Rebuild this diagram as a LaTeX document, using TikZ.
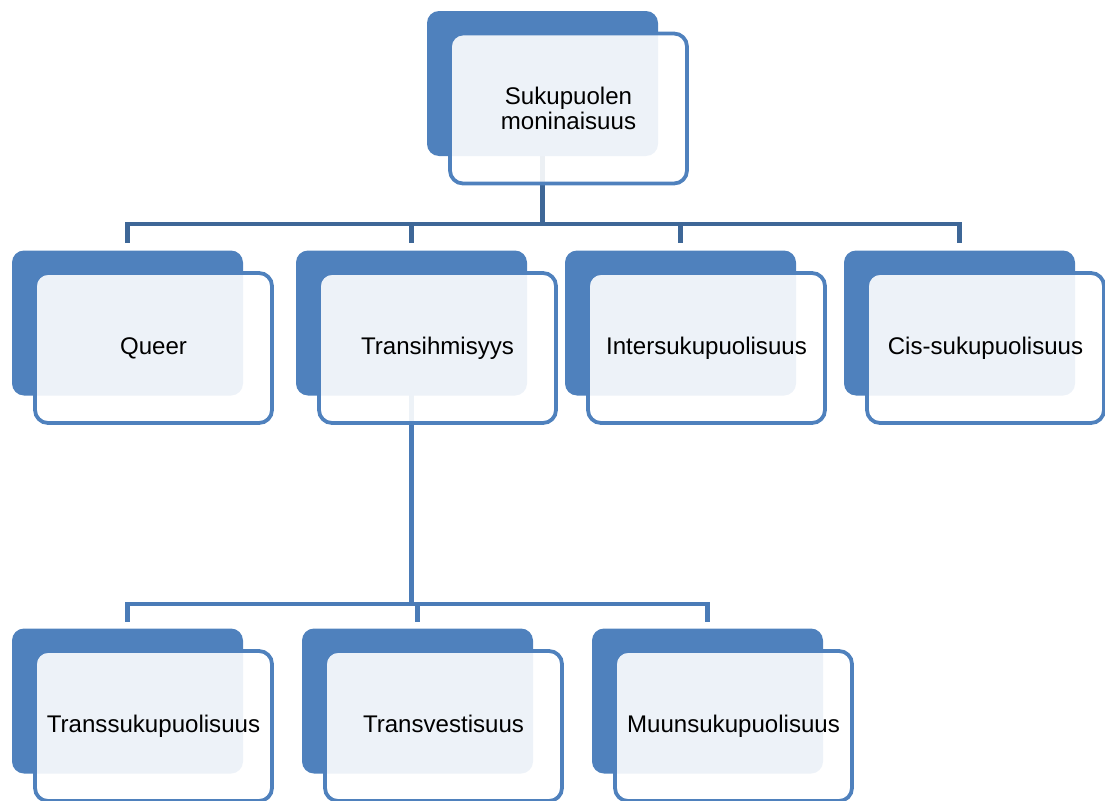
\documentclass[tikz,border=0pt]{standalone}
\usepackage{fontspec}
\setmainfont{Liberation Sans}
\usetikzlibrary{backgrounds}
\definecolor{boxblue}{HTML}{4F81BD}
\definecolor{linkdark}{HTML}{3E6797}
\definecolor{linkblue}{HTML}{4A7BB7}
\begin{document}
\begin{tikzpicture}[
    backbox/.style={fill=boxblue, rounded corners=0.24cm, inner sep=0pt,
        minimum width=4.62cm, minimum height=2.9cm},
    frontbox/.style={draw=boxblue, line width=0.075cm, fill=white, fill opacity=0.9,
        text opacity=1, rounded corners=0.26cm, inner sep=0pt, align=center,
        minimum width=4.74cm, minimum height=3cm,
        font=\fontsize{13.7pt}{14.5pt}\selectfont},
    onerow/.style={text height=0.9em, text depth=0.14em},
    toplink/.style={draw=linkdark, line width=0.085cm},
    sublink/.style={draw=linkblue, line width=0.085cm}]
    \useasboundingbox (0,0) rectangle (22.1,-16.02);

    % 1. Ylin laatikko
    \node[backbox] (top) at (10.85,-1.67) {};
    \node[frontbox] (top-t) at ([shift={(0.52,-0.5)}]top.center) {Sukupuolen\\moninaisuus};

    % 2. Toinen taso
    \node[backbox] (queer) at (2.55,-6.46) {};
    \node[backbox] (trans) at (8.23,-6.46) {};
    \node[backbox] (inter) at (13.61,-6.46) {};
    \node[backbox] (cis) at (19.19,-6.46) {};
    \node[frontbox, onerow] (queer-t) at ([shift={(0.52,-0.5)}]queer.center) {Queer};
    \node[frontbox, onerow] (trans-t) at ([shift={(0.52,-0.5)}]trans.center) {Transihmisyys};
    \node[frontbox, onerow] (inter-t) at ([shift={(0.52,-0.5)}]inter.center) {Intersukupuolisuus};
    \node[frontbox, onerow] (cis-t) at ([shift={(0.52,-0.5)}]cis.center) {Cis-sukupuolisuus};

    % 3. Kolmas taso
    \node[backbox] (transsk) at (2.55,-14.02) {};
    \node[backbox] (transv) at (8.35,-14.02) {};
    \node[backbox] (muun) at (14.15,-14.02) {};
    \node[frontbox, onerow] (transsk-t) at ([shift={(0.52,-0.5)}]transsk.center) {Transsukupuolisuus};
    \node[frontbox, onerow] (transv-t) at ([shift={(0.52,-0.5)}]transv.center) {Transvestisuus};
    \node[frontbox, onerow] (muun-t) at ([shift={(0.52,-0.5)}]muun.center) {Muunsukupuolisuus};

    % 4. Yhdysviivat laatikoiden taakse
    \begin{pgfonlayer}{background}
        \foreach \c in {queer,trans,inter,cis}
            \draw[toplink] (top.center) -- ++(0,-2.81) -| ([yshift=0.14cm]\c.north);
        \foreach \c in {transsk,transv,muun}
            \draw[sublink] (trans.center) -- ++(0,-5.62) -| ([yshift=0.12cm]\c.north);
    \end{pgfonlayer}
\end{tikzpicture}
\end{document}
